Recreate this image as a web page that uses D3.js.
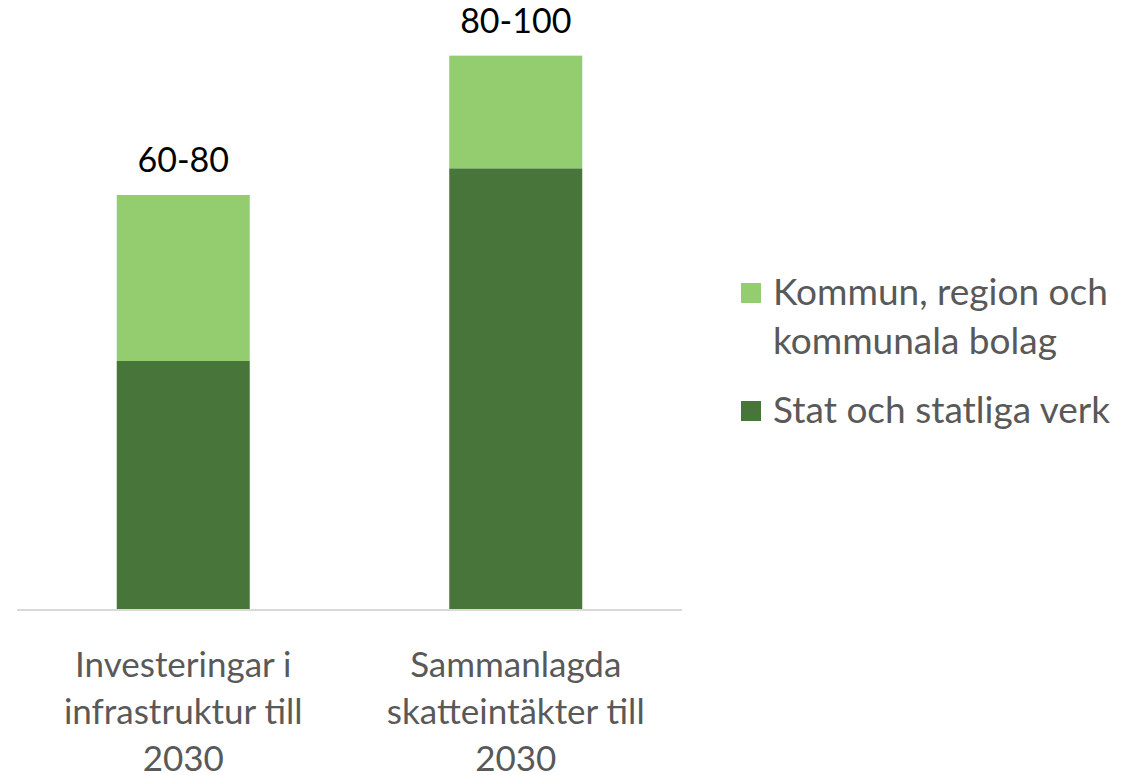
<!DOCTYPE html>
<html>
<head>
<meta charset="utf-8">
<script src="https://cdn.jsdelivr.net/npm/d3@7"></script>
<style>
body{margin:0;background:#fff;}
svg text{font-family:Lato,"Open Sans",sans-serif;}
</style>
</head>
<body>
<div class="canvas"></div>
<script>
// data
const categories=[['Investeringar i','infrastruktur till','2030'],['Sammanlagda','skatteintäkter till','2030']];
const stat=[42,74.5];        // Stat och statliga verk
const kommun=[28,19];        // Kommun, region och kommunala bolag
const totalLabels=['60-80','80-100'];
const seriesNames=['Kommun, region och kommunala bolag','Stat och statliga verk'];

const dims={width:1139,height:775};
const colour={stat:'#48763a',kommun:'#94cd6f'};

const svg=d3.select('.canvas')
  .append('svg')
  .attr('width',dims.width)
  .attr('height',dims.height);

const x=d3.scaleBand()
  .domain([0,1])
  .range([17,682])
  .paddingInner(0.6)
  .paddingOuter(0.3);

const y=d3.scaleLinear()
  .domain([0,100])
  .range([610,17.1]);

const rows=stat.map((s,i)=>({i,stat:s,kommun:kommun[i]}));
const stack=d3.stack().keys(['stat','kommun'])(rows);

const graph=svg.append('g');

graph.selectAll('g.layer')
  .data(stack)
  .enter().append('g')
  .attr('fill',d=>colour[d.key])
  .selectAll('rect')
  .data(d=>d)
  .enter().append('rect')
  .attr('x',d=>x(d.data.i))
  .attr('width',x.bandwidth())
  .attr('y',d=>y(d[1]))
  .attr('height',d=>y(d[0])-y(d[1]));

// axis line
graph.append('line')
  .attr('x1',17).attr('x2',682)
  .attr('y1',y(0)).attr('y2',y(0))
  .attr('stroke','#d9d9d9').attr('stroke-width',2);

// total labels
graph.selectAll('text.total')
  .data(rows)
  .enter().append('text')
  .attr('class','total')
  .attr('x',d=>x(d.i)+x.bandwidth()/2)
  .attr('y',d=>y(d.stat+d.kommun)-23)
  .attr('text-anchor','middle')
  .attr('font-size',34)
  .attr('fill','#000')
  .text((d,i)=>totalLabels[i]);

// category labels
const cat=graph.selectAll('text.cat')
  .data(categories)
  .enter().append('text')
  .attr('class','cat')
  .attr('text-anchor','middle')
  .attr('font-size',35)
  .attr('fill','#595959');
cat.selectAll('tspan')
  .data((d,i)=>d.map(t=>({t,i})))
  .enter().append('tspan')
  .attr('x',d=>x(d.i)+x.bandwidth()/2)
  .attr('y',(d,j)=>677+j*47)
  .text(d=>d.t);

// legend
const legend=svg.append('g').attr('transform','translate(741,0)');
const legendItems=[
  {lines:['Kommun, region och','kommunala bolag'],c:colour.kommun,y:293},
  {lines:['Stat och statliga verk'],c:colour.stat,y:411}
];
legendItems.forEach(item=>{
  legend.append('rect')
    .attr('x',0).attr('y',item.y-10)
    .attr('width',20).attr('height',20)
    .attr('fill',item.c);
  const t=legend.append('text')
    .attr('font-size',37)
    .attr('fill','#595959');
  item.lines.forEach((l,j)=>{
    t.append('tspan').attr('x',32).attr('y',item.y+12+j*49).text(l);
  });
});
</script>
</body>
</html>
